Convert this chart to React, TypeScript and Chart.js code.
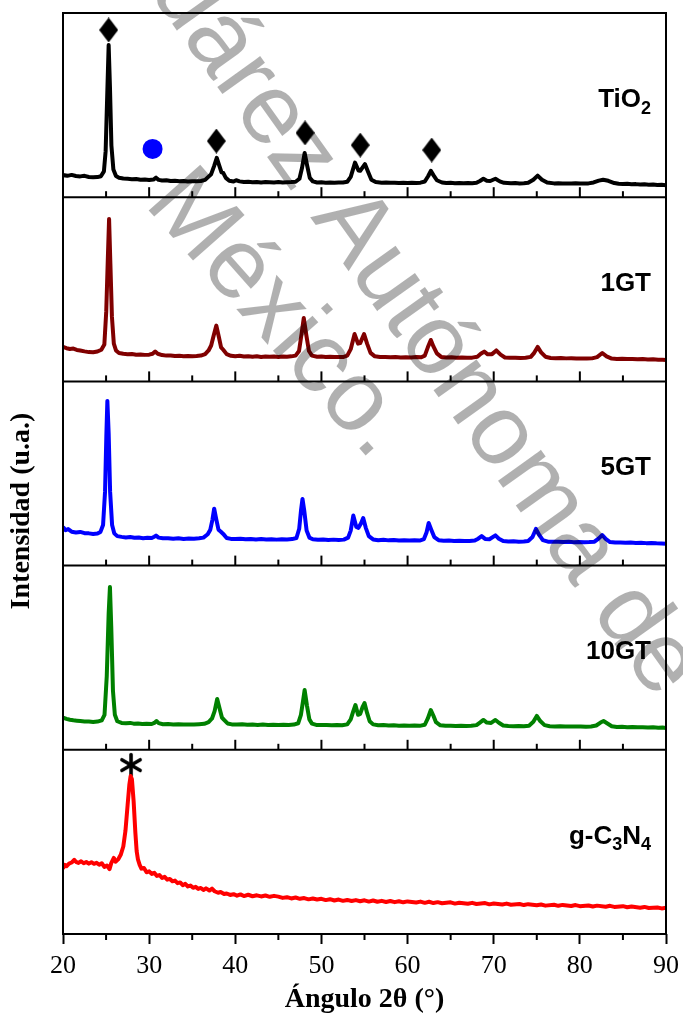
import React, { useEffect, useRef } from 'react';
import { Chart, registerables } from 'chart.js';

Chart.register(...registerables);

// ---------- DATA ----------
const angleMin = 20;
const angleMax = 90;
const angleStep = 10;
const minorStep = 5;

const sampleNames = ['TiO2', '1GT', '5GT', '10GT', 'g-C3N4'];
// label text split into [text, isSubscript]
const labelTiO2: [string, boolean][] = [['TiO', false], ['2', true]];
const label1GT: [string, boolean][] = [['1GT', false]];
const label5GT: [string, boolean][] = [['5GT', false]];
const label10GT: [string, boolean][] = [['10GT', false]];
const labelGCN: [string, boolean][] = [['g-C', false], ['3', true], ['N', false], ['4', true]];
const sampleColors = ['#000000', '#800000', '#0000ff', '#008000', '#ff0000'];

const xTitle = 'Ángulo 2θ (°)';
const yTitle = 'Intensidad (u.a.)';
const watermarkLine1 = 'Juárez Autónoma de';
const watermarkLine2 = 'México.';

// intensities in % of each panel's height: [2θ, intensity]
const tio2: number[][] = [
  [20, 12.0], [20.5, 11.6], [21, 12.1], [21.5, 11.5], [22, 11.3], [22.5, 11.6], [23, 11.0], [23.5, 10.8], [24, 10.9],
  [24.4, 11.4], [24.75, 14], [24.95, 25], [25.15, 58], [25.3, 82.6], [25.45, 60], [25.62, 28], [25.85, 15], [26.15, 11.5],
  [26.5, 10.6], [27, 10.2], [27.5, 10.0], [28, 9.8], [28.5, 9.9], [29, 9.5], [29.5, 9.6], [30, 9.3], [30.5, 9.6],
  [30.8, 10.6], [31.1, 9.4], [31.5, 9.1], [32, 9.2], [32.5, 8.8], [33, 8.9], [33.5, 8.7], [34, 8.8], [34.5, 8.5],
  [35, 8.7], [35.5, 8.6], [36, 8.8], [36.5, 9.4], [36.9, 11.2], [37.2, 12.5], [37.55, 17], [37.85, 21.4], [38.15, 17],
  [38.4, 13.5], [38.6, 13.2], [38.9, 10.5], [39.3, 8.9], [39.8, 8.5], [40.1, 9.2], [40.5, 8.6], [41, 8.2], [41.5, 8.4],
  [42, 8.1], [42.5, 8.3], [43, 8.0], [43.5, 8.2], [44, 8.1], [44.5, 8.0], [45, 8.2], [45.5, 8.0], [46, 8.1], [46.5, 8.2],
  [47, 8.4], [47.45, 10], [47.75, 16], [48.05, 24.0], [48.35, 17], [48.65, 10.5], [49, 8.6], [49.5, 8.0], [50, 8.1],
  [50.5, 7.9], [51, 8.0], [51.5, 7.8], [52, 8.0], [52.5, 8.0], [53, 8.4], [53.4, 11], [53.9, 18.8], [54.3, 14.5],
  [54.5, 14.3], [55.05, 18.0], [55.4, 14], [55.8, 9.5], [56.3, 8.2], [57, 7.9], [57.5, 8.0], [58, 7.8], [58.5, 7.9],
  [59, 7.7], [59.5, 7.8], [60, 7.7], [60.5, 7.8], [61, 7.7], [61.5, 7.9], [62, 8.5], [62.4, 11.5], [62.7, 14.3],
  [63.0, 12.0], [63.4, 9.2], [64, 8.0], [64.5, 7.7], [65, 7.8], [65.5, 7.6], [66, 7.7], [66.5, 7.6], [67, 7.7],
  [67.5, 7.6], [68, 7.8], [68.4, 8.8], [68.8, 10.0], [69.2, 8.9], [69.6, 8.8], [70.2, 10.0], [70.7, 8.6], [71.2, 7.8],
  [72, 7.6], [72.5, 7.7], [73, 7.5], [73.5, 7.6], [74, 7.8], [74.6, 9.5], [75.1, 11.7], [75.6, 9.5], [76.2, 8.0],
  [77, 7.5], [77.5, 7.6], [78, 7.4], [78.5, 7.5], [79, 7.4], [79.5, 7.6], [80, 7.4], [80.5, 7.5], [81, 7.5],
  [81.6, 8.0], [82.2, 9.0], [82.7, 9.5], [83.3, 8.9], [84, 7.7], [84.5, 7.3], [85, 7.2], [85.5, 7.3], [86, 7.0],
  [86.5, 7.1], [87, 6.9], [87.5, 7.0], [88, 6.8], [88.5, 6.9], [89, 6.6], [89.5, 6.7], [90, 6.5],
];

const gt1: number[][] = [
  [20, 18.7], [20.4, 18.0], [20.8, 17.6], [21.2, 17.8], [21.6, 17.1], [22, 16.8], [22.5, 16.3], [23, 15.9], [23.5, 15.8],
  [24, 16.2], [24.45, 17.2], [24.8, 20], [25.02, 38], [25.2, 66], [25.35, 88.2], [25.5, 64], [25.68, 35], [25.9, 20.5],
  [26.15, 16.8], [26.5, 15.4], [27, 15.0], [27.5, 14.8], [28, 14.9], [28.5, 14.5], [29, 14.6], [29.5, 14.4], [30, 14.5],
  [30.4, 15.0], [30.7, 16.2], [31.0, 15.0], [31.5, 14.3], [32, 14.0], [32.5, 14.1], [33, 13.8], [33.5, 13.9], [34, 13.7],
  [34.5, 13.8], [35, 13.7], [35.5, 13.8], [36, 14.0], [36.5, 14.8], [36.9, 16.8], [37.2, 19.5], [37.5, 25], [37.8, 30.3],
  [38.1, 24], [38.35, 18.5], [38.6, 17.2], [39.0, 14.8], [39.5, 13.9], [40, 13.6], [40.5, 13.9], [41, 13.5], [41.5, 13.7],
  [42, 13.4], [42.5, 13.6], [43, 13.3], [43.5, 13.5], [44, 13.4], [44.5, 13.5], [45, 13.3], [45.5, 13.5], [46, 13.4],
  [46.5, 13.6], [47, 14.0], [47.4, 16.5], [47.7, 26], [47.95, 34.4], [48.25, 25], [48.55, 16.5], [48.9, 14.0], [49.5, 13.4],
  [50, 13.5], [50.5, 13.2], [51, 13.4], [51.5, 13.2], [52, 13.3], [52.5, 13.2], [53, 14.0], [53.4, 17.5], [53.85, 25.7],
  [54.25, 20.5], [54.5, 20.8], [54.95, 25.7], [55.3, 20.5], [55.7, 15.5], [56.2, 13.6], [56.8, 13.2], [57.4, 13.3],
  [58, 13.1], [58.6, 13.2], [59.2, 13.0], [59.8, 13.1], [60.4, 13.0], [61, 13.2], [61.6, 13.1], [62, 14.0], [62.35, 18.5],
  [62.7, 22.5], [63.0, 19], [63.4, 15.2], [63.9, 13.3], [64.5, 13.0], [65.1, 13.1], [65.7, 12.9], [66.3, 13.0],
  [66.9, 12.8], [67.5, 12.9], [68.1, 13.4], [68.5, 15.0], [68.9, 16.2], [69.3, 14.7], [69.8, 14.8], [70.3, 16.8],
  [70.8, 14.5], [71.3, 13.0], [71.9, 12.8], [72.5, 12.9], [73.1, 12.7], [73.7, 12.8], [74.3, 13.3], [74.7, 15.5],
  [75.1, 18.7], [75.5, 15.8], [76.0, 13.4], [76.6, 12.7], [77.2, 12.6], [77.8, 12.7], [78.4, 12.5], [79, 12.6],
  [79.6, 12.4], [80.2, 12.5], [80.8, 12.4], [81.4, 12.5], [82.0, 13.2], [82.6, 15.4], [83.1, 13.6], [83.7, 12.4],
  [84.3, 12.2], [84.9, 12.3], [85.5, 12.1], [86.1, 12.2], [86.7, 12.0], [87.3, 12.1], [87.9, 11.9], [88.5, 12.0],
  [89.1, 11.8], [89.6, 11.7], [90, 11.6],
];

const gt5: number[][] = [
  [20, 21.0], [20.3, 19.2], [20.6, 19.8], [21, 18.4], [21.5, 18.0], [22, 18.3], [22.5, 17.6], [23, 17.5], [23.5, 17.2],
  [24, 17.4], [24.35, 18.3], [24.65, 22], [24.88, 40], [25.03, 70], [25.15, 89.4], [25.3, 72], [25.47, 40], [25.7, 22],
  [25.95, 17.5], [26.3, 16.0], [26.8, 15.6], [27.3, 15.3], [27.8, 15.5], [28.3, 15.1], [28.8, 15.2], [29.3, 14.9],
  [29.8, 15.1], [30.3, 15.0], [30.6, 15.7], [30.8, 16.3], [31.1, 15.2], [31.6, 14.8], [32.2, 14.9], [32.8, 14.6],
  [33.4, 14.8], [34, 14.5], [34.6, 14.7], [35.2, 14.6], [35.8, 14.8], [36.3, 15.2], [36.8, 17], [37.1, 19.5],
  [37.35, 25], [37.55, 30.9], [37.8, 25], [38.05, 19.5], [38.3, 18.5], [38.6, 17.2], [39.0, 15.0], [39.5, 14.5],
  [40, 14.4], [40.6, 14.6], [41.2, 14.3], [41.8, 14.5], [42.4, 14.2], [43, 14.4], [43.6, 14.2], [44.2, 14.3],
  [44.8, 14.1], [45.4, 14.3], [46, 14.2], [46.6, 14.4], [47.1, 15.0], [47.42, 20], [47.63, 30], [47.8, 36.2],
  [48.0, 30], [48.28, 19], [48.6, 15.2], [49, 14.3], [49.6, 14.0], [50.2, 14.2], [50.8, 13.9], [51.4, 14.1],
  [52, 13.9], [52.6, 14.1], [53.1, 15.2], [53.4, 19], [53.7, 27.2], [54.05, 21], [54.3, 20.5], [54.6, 23],
  [54.85, 25.8], [55.15, 20.5], [55.5, 16], [56, 14.2], [56.6, 13.8], [57.2, 14.0], [57.8, 13.7], [58.4, 13.9],
  [59, 13.6], [59.6, 13.8], [60.2, 13.6], [60.8, 13.7], [61.4, 13.6], [61.9, 14.4], [62.2, 18], [62.45, 23.1],
  [62.75, 19.5], [63.1, 15.5], [63.6, 13.8], [64.2, 13.5], [64.8, 13.6], [65.4, 13.4], [66, 13.5], [66.6, 13.3],
  [67.2, 13.4], [67.8, 13.6], [68.2, 14.6], [68.6, 16.0], [69.0, 14.5], [69.5, 14.3], [70.2, 16.4], [70.6, 14.6],
  [71.1, 13.3], [71.7, 13.1], [72.3, 13.2], [72.9, 13.0], [73.5, 13.1], [74.0, 13.4], [74.5, 15.5], [74.9, 19.9],
  [75.3, 16.5], [75.7, 13.8], [76.3, 13.0], [76.9, 12.9], [77.5, 13.0], [78.1, 12.8], [78.7, 12.9], [79.3, 12.7],
  [79.9, 12.8], [80.5, 12.7], [81.1, 12.8], [81.7, 13.0], [82.2, 14.8], [82.6, 16.6], [83.0, 14.5], [83.5, 12.8],
  [84.1, 12.5], [84.7, 12.6], [85.3, 12.4], [85.9, 12.5], [86.5, 12.3], [87.1, 12.4], [87.7, 12.2], [88.3, 12.3],
  [88.9, 12.1], [89.5, 12.0], [90, 11.9],
];

const gt10: number[][] = [
  [20, 17.5], [20.4, 16.8], [20.8, 16.3], [21.2, 16.0], [21.6, 15.8], [22, 15.6], [22.5, 15.4], [23, 15.3], [23.5, 15.1],
  [24, 15.3], [24.5, 16.0], [24.82, 19], [25.08, 40], [25.3, 74], [25.45, 88.4], [25.6, 67], [25.8, 32], [26.02, 19],
  [26.3, 15.5], [26.8, 14.6], [27.3, 14.4], [27.8, 14.6], [28.2, 14.2], [28.7, 14.3], [29.2, 14.0], [29.7, 14.1],
  [30.3, 14.0], [30.6, 14.6], [30.85, 15.6], [31.1, 14.5], [31.6, 13.9], [32.2, 14.0], [32.8, 13.8], [33.4, 13.9],
  [34, 13.7], [34.6, 13.8], [35.2, 13.7], [35.8, 13.9], [36.4, 14.1], [36.9, 15.0], [37.3, 17], [37.6, 21], [37.9, 27.6],
  [38.2, 22], [38.45, 17.5], [38.7, 16.2], [39.1, 14.3], [39.6, 13.8], [40.2, 13.7], [40.8, 13.9], [41.4, 13.6],
  [42, 13.7], [42.6, 13.5], [43.2, 13.7], [43.8, 13.5], [44.4, 13.6], [45, 13.4], [45.6, 13.6], [46.2, 13.5],
  [46.8, 13.7], [47.3, 14.4], [47.62, 19], [47.85, 26], [48.05, 32.5], [48.32, 24], [48.6, 16.5], [48.9, 14.2],
  [49.4, 13.5], [50, 13.4], [50.6, 13.5], [51.2, 13.3], [51.8, 13.4], [52.4, 13.3], [53, 13.8], [53.4, 16.5],
  [53.7, 21], [53.95, 24.3], [54.25, 19], [54.5, 19.5], [54.8, 23.5], [55.0, 25.4], [55.3, 20], [55.6, 15.5],
  [56, 13.8], [56.6, 13.3], [57.2, 13.4], [57.8, 13.2], [58.4, 13.3], [59, 13.1], [59.6, 13.2], [60.2, 13.1],
  [60.8, 13.2], [61.4, 13.0], [62, 13.6], [62.35, 17], [62.7, 21.6], [63.0, 18.5], [63.3, 15], [63.8, 13.3],
  [64.4, 13.0], [65, 13.1], [65.6, 12.9], [66.2, 13.0], [66.8, 12.9], [67.4, 13.0], [68, 13.4], [68.4, 14.8],
  [68.8, 16.2], [69.2, 14.8], [69.7, 14.6], [70.2, 16.2], [70.6, 14.7], [71.1, 13.2], [71.7, 12.9], [72.3, 12.8],
  [72.9, 12.9], [73.5, 12.8], [74.1, 13.1], [74.6, 15.2], [75.0, 18.4], [75.4, 15.6], [75.9, 13.4], [76.5, 12.8],
  [77.1, 12.7], [77.7, 12.8], [78.3, 12.6], [78.9, 12.7], [79.5, 12.6], [80.1, 12.7], [80.7, 12.5], [81.3, 12.7],
  [81.9, 13.2], [82.4, 14.8], [82.75, 15.6], [83.2, 14.3], [83.7, 12.8], [84.3, 12.4], [84.9, 12.5], [85.5, 12.3],
  [86.1, 12.4], [86.7, 12.2], [87.3, 12.3], [87.9, 12.1], [88.5, 12.2], [89.1, 12.0], [89.6, 12.1], [90, 11.8],
];

const gcn: number[][] = [
  [20, 35.5], [20.2, 37.5], [20.4, 36.8], [20.7, 38.2], [21, 38.8], [21.3, 40.3], [21.5, 39.2], [21.8, 38.6], [22.1, 39.5],
  [22.4, 38.4], [22.7, 39.1], [23.0, 38.2], [23.3, 39.0], [23.6, 38.1], [23.9, 38.7], [24.2, 37.6], [24.5, 38.4],
  [24.8, 36.4], [25.1, 37.2], [25.4, 35.2], [25.6, 38.5], [25.9, 41.3], [26.1, 39.2], [26.4, 40.5], [26.7, 43.0],
  [27.0, 47.5], [27.25, 56], [27.5, 70], [27.7, 81], [27.85, 85.8], [28.0, 84], [28.2, 72], [28.4, 55], [28.55, 45],
  [28.7, 40.5], [28.9, 37.5], [29.1, 35.5], [29.4, 35.8], [29.7, 33.5], [30.0, 34.0], [30.3, 32.6], [30.6, 33.2],
  [30.9, 31.5], [31.2, 32.0], [31.5, 30.4], [31.8, 31.0], [32.1, 29.5], [32.4, 29.9], [32.7, 28.6], [33.0, 29.0],
  [33.3, 27.6], [33.6, 28.0], [33.9, 26.5], [34.2, 27.2], [34.5, 25.8], [34.8, 26.3], [35.1, 25.1], [35.4, 25.6],
  [35.7, 24.5], [36.0, 25.0], [36.3, 23.9], [36.6, 24.8], [37.0, 23.6], [37.3, 24.6], [37.6, 23.2], [38.0, 22.4],
  [38.3, 22.8], [38.7, 21.7], [39.0, 22.0], [39.4, 21.2], [39.8, 21.6], [40.2, 20.8], [40.6, 21.5], [41.0, 20.6],
  [41.5, 21.3], [42.0, 20.5], [42.5, 21.0], [43.0, 20.4], [43.5, 20.9], [44.0, 20.2], [44.5, 20.7], [45.0, 20.3],
  [45.5, 19.6], [46, 20.0], [46.5, 19.3], [47, 19.8], [47.5, 19.1], [48, 19.5], [48.5, 18.8], [49, 19.3], [49.5, 18.7],
  [50, 19.1], [50.5, 18.4], [51, 18.9], [51.5, 18.2], [52, 18.7], [52.5, 18.0], [53, 18.5], [53.5, 17.9], [54, 18.4],
  [54.5, 17.8], [55, 18.3], [55.5, 17.6], [56, 18.2], [56.5, 17.5], [57, 18.0], [57.5, 17.4], [58, 17.9], [58.5, 17.3],
  [59, 17.8], [59.5, 17.2], [60, 17.7], [61, 17.1], [61.5, 17.6], [62, 16.9], [62.5, 17.5], [63, 16.8], [63.5, 17.3],
  [64, 16.7], [65, 17.2], [65.5, 16.5], [66, 17.0], [67, 16.4], [67.5, 16.9], [68, 16.3], [69, 16.8], [69.5, 16.1],
  [70, 16.6], [71, 16.0], [71.5, 16.5], [72, 15.9], [73, 16.3], [73.5, 15.7], [74, 16.2], [75, 15.6], [75.5, 16.0],
  [76, 15.4], [77, 15.9], [77.5, 15.3], [78, 15.8], [79, 15.2], [79.5, 15.7], [80, 15.1], [81, 15.5], [81.5, 14.9],
  [82, 15.4], [83, 14.8], [83.5, 15.3], [84, 14.7], [85, 15.1], [85.5, 14.5], [86, 14.9], [87, 14.3], [87.5, 14.7],
  [88, 14.1], [89, 14.4], [89.5, 13.9], [90, 14.2],
];

// peak markers (in % of their panel)
const anataseMarks: number[][] = [[25.3, 90.8], [37.8, 30.5], [48.1, 34.9], [54.5, 28.3], [62.8, 25.6]];
const brookiteMarks: number[][] = [[30.4, 26.2]];
const gcnMarks: number[][] = [[27.9, 91.7]];

const seriesList = [tio2, gt1, gt5, gt10, gcn];
const labelList = [labelTiO2, label1GT, label5GT, label10GT, labelGCN];
const panelCount = seriesList.length;

// ---------- HELPERS ----------
const toGlobal = (panel: number, arr: number[][]) =>
  arr.map(([x, v]) => ({ x, y: panelCount - 1 - panel + v / 100 }));

function makeDiamond(): HTMLCanvasElement {
  const c = document.createElement('canvas');
  const w = 19, h = 25;
  c.width = w; c.height = h;
  const g = c.getContext('2d')!;
  g.fillStyle = '#000';
  g.beginPath();
  g.moveTo(w / 2, 0); g.lineTo(w, h / 2); g.lineTo(w / 2, h); g.lineTo(0, h / 2);
  g.closePath(); g.fill();
  return c;
}

function makeAsterisk(): HTMLCanvasElement {
  const c = document.createElement('canvas');
  const s = 26;
  c.width = s; c.height = s;
  const g = c.getContext('2d')!;
  g.strokeStyle = '#000';
  g.lineWidth = 3.6;
  g.lineCap = 'round';
  g.translate(s / 2, s / 2);
  for (let k = 0; k < 6; k++) {
    const a = Math.PI / 2 + (k * Math.PI) / 3;
    g.beginPath();
    g.moveTo(0, 0);
    g.lineTo(Math.cos(a) * 10.5, Math.sin(a) * 10.5);
    g.stroke();
  }
  return c;
}

const SERIF = "'Liberation Serif', 'Times New Roman', serif";
const SANS = "'Liberation Sans', Arial, sans-serif";

const panelPlugin = {
  id: 'panelDecor',
  afterDatasetsDraw(chart: any) {
    const { ctx, chartArea, scales } = chart;
    const xs = scales.x;
    const ys = scales.y;
    ctx.save();
    ctx.strokeStyle = '#000';
    ctx.lineWidth = 2;
    ctx.strokeRect(chartArea.left, chartArea.top, chartArea.right - chartArea.left, chartArea.bottom - chartArea.top);
    for (let k = 0; k <= panelCount - 1; k++) {
      const yp = ys.getPixelForValue(k);
      if (k > 0) {
        ctx.beginPath();
        ctx.moveTo(chartArea.left, yp);
        ctx.lineTo(chartArea.right, yp);
        ctx.stroke();
      }
      for (let v = angleMin; v <= angleMax; v += minorStep) {
        const xp = xs.getPixelForValue(v);
        const major = v % angleStep === 0;
        const len = major ? 10 : 6;
        ctx.beginPath();
        if (k === 0) {
          if (major) continue;
          ctx.moveTo(xp, yp);
          ctx.lineTo(xp, yp + len);
        } else {
          ctx.moveTo(xp, yp);
          ctx.lineTo(xp, yp - len);
        }
        ctx.stroke();
      }
    }
    // sample labels
    ctx.fillStyle = '#000';
    ctx.textBaseline = 'middle';
    ctx.textAlign = 'left';
    const mainFont = `bold 26px ${SANS}`;
    const subFont = `bold 18px ${SANS}`;
    labelList.forEach((segs, i) => {
      let total = 0;
      segs.forEach(([t, sub]) => {
        ctx.font = sub ? subFont : mainFont;
        total += ctx.measureText(t).width;
      });
      let xp = chartArea.right - 15 - total;
      const yp = ys.getPixelForValue(panelCount - 1 - i + 0.53);
      segs.forEach(([t, sub]) => {
        ctx.font = sub ? subFont : mainFont;
        ctx.fillText(t, xp, sub ? yp + 9 : yp);
        xp += ctx.measureText(t).width;
      });
    });
    // y title
    ctx.save();
    ctx.translate(22, 511);
    ctx.rotate(-Math.PI / 2);
    ctx.font = `bold 28px ${SERIF}`;
    ctx.textAlign = 'center';
    ctx.textBaseline = 'middle';
    ctx.fillText(yTitle, 0, 0);
    ctx.restore();
    ctx.restore();
  },
  afterDraw(chart: any) {
    const { ctx } = chart;
    ctx.save();
    ctx.fillStyle = 'rgba(0,0,0,0.31)';
    ctx.font = `100px ${SANS}`;
    ctx.textBaseline = 'middle';
    ctx.textAlign = 'left';
    ctx.save();
    ctx.translate(142, -66);
    ctx.rotate((54.5 * Math.PI) / 180);
    ctx.fillText(watermarkLine1, 0, 0);
    ctx.restore();
    ctx.save();
    ctx.translate(164, 186);
    ctx.rotate((48.5 * Math.PI) / 180);
    ctx.fillText(watermarkLine2, 0, 0);
    ctx.restore();
    ctx.restore();
  },
};

export default function App() {
  const ref = useRef<HTMLCanvasElement | null>(null);
  useEffect(() => {
    if (!ref.current) return;
    const diamond = makeDiamond();
    const asterisk = makeAsterisk();
    const lineSets = seriesList.map((s, i) => ({
      label: sampleNames[i],
      data: toGlobal(i, s),
      borderColor: sampleColors[i],
      backgroundColor: sampleColors[i],
      borderWidth: 4,
      pointRadius: 0,
      tension: 0,
      fill: false,
      borderJoinStyle: 'round' as const,
    }));
    const chart = new Chart(ref.current, {
      type: 'line',
      data: {
        datasets: [
          ...lineSets,
          {
            label: 'anatase',
            data: toGlobal(0, anataseMarks),
            showLine: false,
            pointStyle: diamond,
            pointRadius: 10,
            borderWidth: 0,
          } as any,
          {
            label: 'brookite',
            data: toGlobal(0, brookiteMarks),
            showLine: false,
            pointStyle: 'circle',
            pointRadius: 10,
            backgroundColor: '#0000ff',
            borderColor: '#0000ff',
            borderWidth: 0,
          } as any,
          {
            label: 'gcn',
            data: toGlobal(4, gcnMarks),
            showLine: false,
            pointStyle: asterisk,
            pointRadius: 12,
            borderWidth: 0,
          } as any,
        ],
      },
      options: {
        animation: false,
        responsive: false,
        devicePixelRatio: 1,
        parsing: false as any,
        layout: { padding: { left: 63, right: 17, top: 13, bottom: 0 } },
        plugins: { legend: { display: false }, tooltip: { enabled: false } },
        scales: {
          x: {
            type: 'linear',
            position: 'bottom',
            min: angleMin,
            max: angleMax,
            ticks: {
              stepSize: angleStep,
              color: '#000',
              font: { family: SERIF, size: 26 },
              padding: 7,
              maxRotation: 0,
              autoSkip: false,
            },
            grid: {
              display: true,
              drawOnChartArea: false,
              drawTicks: true,
              tickLength: 10,
              tickWidth: 2,
              tickColor: '#000',
            },
            border: { display: false },
            title: {
              display: true,
              text: xTitle,
              color: '#000',
              font: { family: SERIF, size: 28, weight: 'bold' },
              padding: { top: 0, bottom: 0 },
            },
            afterFit: (s: any) => {
              s.height = 83;
              s.paddingLeft = 0;
              s.paddingRight = 0;
            },
          },
          y: {
            type: 'linear',
            min: 0,
            max: panelCount,
            display: false,
          },
        },
      },
      plugins: [panelPlugin],
    });
    return () => chart.destroy();
  }, []);
  return (
    <div style={{ position: 'absolute', left: 0, top: 0, width: 683, height: 1017, background: '#fff' }}>
      <canvas ref={ref} width={683} height={1017} style={{ display: 'block' }} />
    </div>
  );
}
